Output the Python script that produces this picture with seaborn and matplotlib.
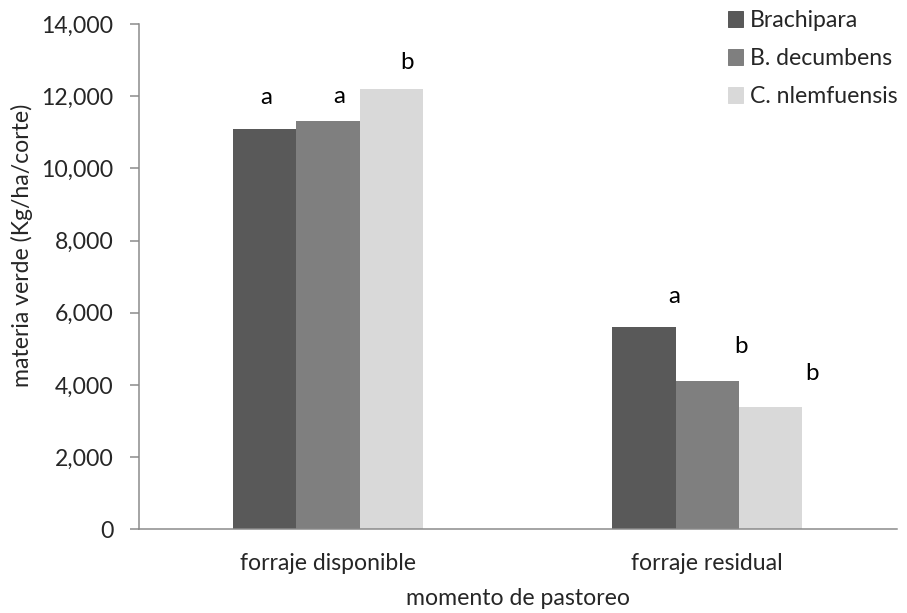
import matplotlib
matplotlib.use("Agg")
import matplotlib.pyplot as plt
import seaborn as sns
import pandas as pd

# datos
momentos = ["forraje disponible", "forraje residual"]
especies = ["Brachipara", "B. decumbens", "C. nlemfuensis"]
brachipara = [11100, 5600]
decumbens = [11300, 4100]
nlemfuensis = [12200, 3400]
letras_brachipara = ["a", "a"]
letras_decumbens = ["a", "b"]
letras_nlemfuensis = ["b", "b"]

colores = ["#595959", "#7f7f7f", "#d9d9d9"]
# desplazamiento de las letras (px) respecto al centro superior de cada barra
letra_dx = [[1.5, 30.5], [11.5, 33.5], [16, 42]]
letra_dy = [[25, 24], [18, 28], [20, 27]]

df = pd.DataFrame({
    "momento": momentos * 3,
    "especie": [e for e in especies for _ in momentos],
    "valor": brachipara + decumbens + nlemfuensis,
})
letras = [letras_brachipara, letras_decumbens, letras_nlemfuensis]

sns.set_style("white")
plt.rcParams["font.family"] = ["Lato", "DejaVu Sans"]
DPI = 72
fig = plt.figure(figsize=(907 / DPI, 613 / DPI), dpi=DPI)
ax = fig.add_axes([138.5 / 907, 1 - 529.3 / 613, (896.7 - 138.5) / 907, (529.3 - 24) / 613])

sns.barplot(data=df, x="momento", y="valor", hue="especie", order=momentos,
            hue_order=especies, palette=colores, width=0.5, gap=0, saturation=1,
            linewidth=0, errorbar=None, ax=ax)

for i, cont in enumerate(ax.containers):
    for j, bar in enumerate(cont):
        ax.annotate(letras[i][j], (bar.get_x() + bar.get_width() / 2, bar.get_height()),
                    xytext=(letra_dx[i][j], letra_dy[i][j]), textcoords="offset points",
                    ha="center", va="baseline", fontsize=24, color="black")

ax.set_ylim(0, 14000)
ax.set_xlim(-0.5, 1.5)
ax.set_yticks(range(0, 14001, 2000))
ax.yaxis.set_major_formatter(matplotlib.ticker.StrMethodFormatter("{x:,.0f}"))

spine_col = "#898989"
for s in ["top", "right"]:
    ax.spines[s].set_visible(False)
for s in ["left", "bottom"]:
    ax.spines[s].set_color(spine_col)
    ax.spines[s].set_linewidth(1.5)

ax.tick_params(axis="y", length=9, width=1.5, color=spine_col, pad=16, labelsize=23, left=True)
ax.tick_params(axis="x", length=0, pad=24, labelsize=23)

ax.set_xlabel("momento de pastoreo", fontsize=23, labelpad=14)
ax.set_ylabel("materia verde (Kg/ha/corte)", fontsize=23)
ax.yaxis.set_label_coords(-0.139, 0.5627)

ax.get_legend().remove()
handles = [matplotlib.patches.Patch(color=c) for c in colores]
fig.legend(handles, especies, loc="upper left", bbox_to_anchor=(728 / 907, 1 - 10 / 613),
           frameon=False, fontsize=23, handlelength=0.65, handleheight=0.65,
           handletextpad=0.3, labelspacing=0.74, borderpad=0, borderaxespad=0)

fig.savefig("out.png", dpi=DPI)
